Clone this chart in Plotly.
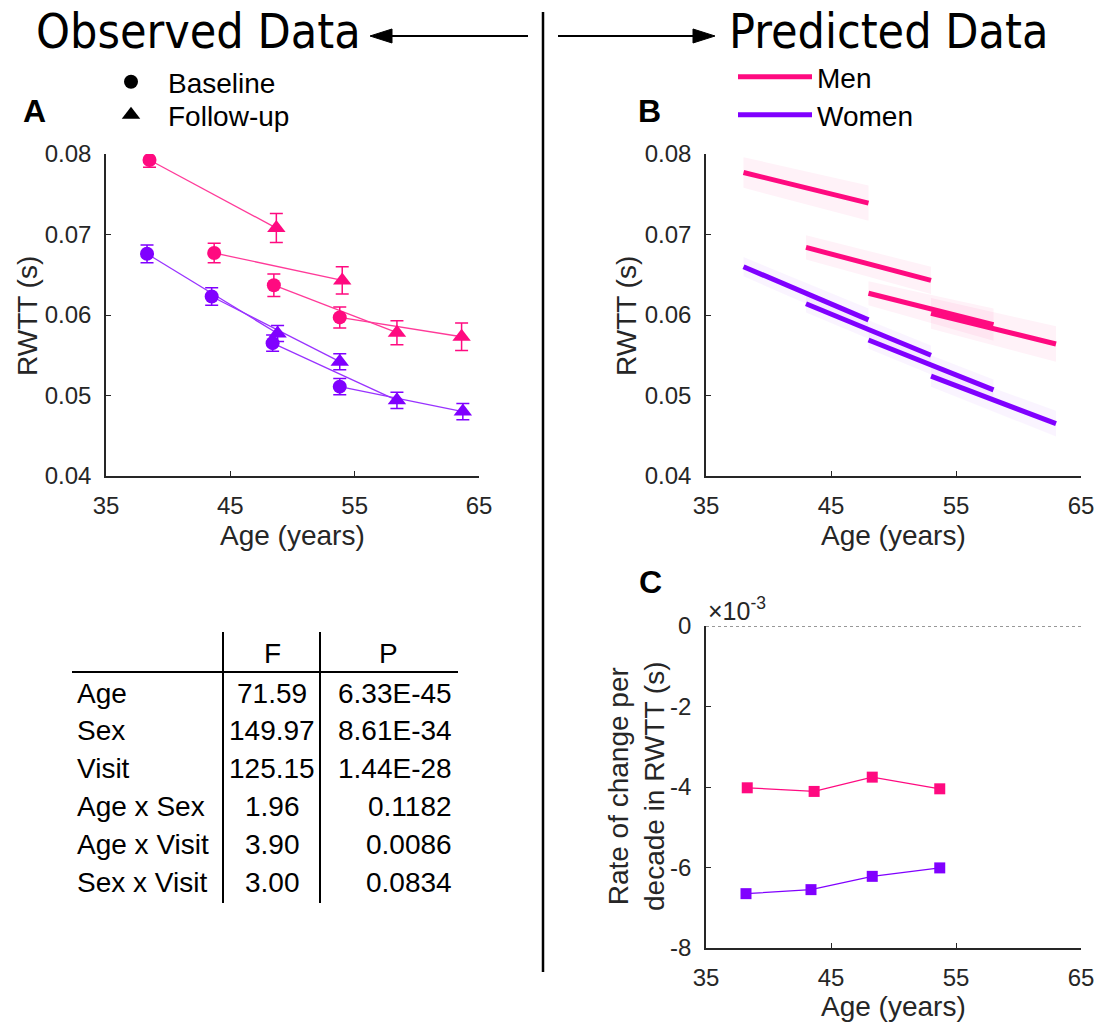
import plotly.graph_objects as go

W, H = 1100, 1026
FONT = "Liberation Sans, Arial, Helvetica, sans-serif"
HEAD_FONT = "DejaVu Sans Condensed, DejaVu Sans, sans-serif"
PINK = "#FF0A80"
PURPLE = "#8000FF"
AX = "#262626"

# ---------------- Panel A: observed data ----------------
men_base_age = [38.5, 43.7, 48.5, 53.8]
men_base_rwtt = [0.07925, 0.0677, 0.0637, 0.0597]
men_base_err = [0.0009, 0.0012, 0.0014, 0.0013]
men_fu_age = [48.7, 54.0, 58.4, 63.6]
men_fu_rwtt = [0.0708, 0.0643, 0.0578, 0.0573]
men_fu_err = [0.0018, 0.0017, 0.0015, 0.0017]

women_base_age = [38.3, 43.5, 48.4, 53.8]
women_base_rwtt = [0.0676, 0.0623, 0.0565, 0.0511]
women_base_err = [0.0011, 0.0011, 0.0010, 0.0010]
women_fu_age = [48.8, 53.8, 58.4, 63.7]
women_fu_rwtt = [0.0577, 0.0542, 0.0494, 0.0480]
women_fu_err = [0.0010, 0.0010, 0.0010, 0.0010]

# ---------------- Panel B: predicted data ----------------
pred_start_age = [38, 43, 48, 53]
pred_end_age = [48, 53, 58, 63]
men_pred_start = [0.0777, 0.0684, 0.0627, 0.0602]
men_pred_end = [0.0739, 0.0643, 0.0588, 0.0564]
men_ci_start = [0.0019, 0.0015, 0.0015, 0.0019]
men_ci_end = [0.0022, 0.0017, 0.0020, 0.0022]
women_pred_start = [0.0660, 0.0614, 0.0569, 0.0524]
women_pred_end = [0.0594, 0.0550, 0.0507, 0.0465]
women_ci_start = [0.0012, 0.0011, 0.0011, 0.0013]
women_ci_end = [0.0014, 0.0012, 0.0013, 0.0016]

# ---------------- Panel C: rate of change ----------------
rate_age_men = [38.3, 43.65, 48.3, 53.7]
rate_men = [-4.02e-3, -4.11e-3, -3.755e-3, -4.045e-3]
rate_age_women = [38.2, 43.4, 48.3, 53.7]
rate_women = [-6.65e-3, -6.55e-3, -6.22e-3, -6.01e-3]

# ---------------- Table ----------------
table_terms = ["Age", "Sex", "Visit", "Age x Sex", "Age x Visit", "Sex x Visit"]
table_F = ["71.59", "149.97", "125.15", "1.96", "3.90", "3.00"]
table_P = ["6.33E-45", "8.61E-34", "1.44E-28", "0.1182", "0.0086", "0.0834"]
table_header = ["F", "P"]

age_ticks = [35, 45, 55, 65]
rwtt_ticks = [0.04, 0.05, 0.06, 0.07, 0.08]
rate_ticks = [-0.008, -0.006, -0.004, -0.002, 0.0]
rate_ticklabels = ["-8", "-6", "-4", "-2", "0"]


def px(x):
    return x / W


def py(y):
    return 1 - y / H


def pairs(xa, ya, xb, yb):
    xs, ys = [], []
    for a, b, c, d in zip(xa, ya, xb, yb):
        xs += [a, b, None]
        ys += [c, d, None]
    return xs, ys


fig = go.Figure()

# ---- Panel A traces ----
for col, bx, by, be, fx, fy, fe in [
    (PINK, men_base_age, men_base_rwtt, men_base_err, men_fu_age, men_fu_rwtt, men_fu_err),
    (PURPLE, women_base_age, women_base_rwtt, women_base_err, women_fu_age, women_fu_rwtt, women_fu_err),
]:
    lx, ly = pairs(bx, fx, by, fy)
    fig.add_trace(go.Scatter(x=lx, y=ly, mode="lines", line=dict(color=col, width=1.3),
                             opacity=0.8, showlegend=False, xaxis="x", yaxis="y", hoverinfo="skip"))
    fig.add_trace(go.Scatter(x=bx, y=by, mode="markers",
                             marker=dict(symbol="circle", size=14, color=col, line=dict(width=0)),
                             error_y=dict(type="data", array=be, color=col, thickness=1.5, width=6.5),
                             showlegend=False, xaxis="x", yaxis="y"))
    fig.add_trace(go.Scatter(x=fx, y=fy, mode="markers",
                             marker=dict(symbol="triangle-up", size=16, color=col, line=dict(width=0)),
                             error_y=dict(type="data", array=fe, color=col, thickness=1.5, width=6.5),
                             showlegend=False, xaxis="x", yaxis="y"))

# legend entries for A
fig.add_trace(go.Scatter(x=[None], y=[None], mode="markers", name="Baseline",
                         marker=dict(symbol="circle", size=14, color="black"),
                         legend="legend", xaxis="x", yaxis="y"))
fig.add_trace(go.Scatter(x=[None], y=[None], mode="markers", name="Follow-up",
                         marker=dict(symbol="triangle-up", size=16, color="black"),
                         legend="legend2", xaxis="x", yaxis="y"))

# ---- Panel B traces ----
for col, fillc, st, en, cs, ce, name, lg in [
    (PINK, "rgba(255,10,128,0.055)", men_pred_start, men_pred_end, men_ci_start, men_ci_end, "Men", "legend3"),
    (PURPLE, "rgba(128,0,255,0.045)", women_pred_start, women_pred_end, women_ci_start, women_ci_end, "Women", "legend4"),
]:
    for s, e, ys, ye, c0, c1 in zip(pred_start_age, pred_end_age, st, en, cs, ce):
        fig.add_trace(go.Scatter(x=[s, e, e, s, s], y=[ys + c0, ye + c1, ye - c1, ys - c0, ys + c0],
                                 mode="lines", fill="toself", fillcolor=fillc, line=dict(width=0),
                                 showlegend=False, xaxis="x2", yaxis="y2", hoverinfo="skip"))
    lx, ly = pairs(pred_start_age, pred_end_age, st, en)
    fig.add_trace(go.Scatter(x=lx, y=ly, mode="lines", line=dict(color=col, width=5),
                             name=name, legend=lg, showlegend=True, xaxis="x2", yaxis="y2"))

# ---- Panel C traces ----
fig.add_trace(go.Scatter(x=rate_age_men, y=rate_men, mode="lines+markers",
                         line=dict(color=PINK, width=1.3), marker=dict(symbol="square", size=11, color=PINK),
                         showlegend=False, xaxis="x3", yaxis="y3"))
fig.add_trace(go.Scatter(x=rate_age_women, y=rate_women, mode="lines+markers",
                         line=dict(color=PURPLE, width=1.3), marker=dict(symbol="square", size=11, color=PURPLE),
                         showlegend=False, xaxis="x3", yaxis="y3"))

# ---- Axes ----
common = dict(showline=True, linecolor=AX, linewidth=1.5, ticks="inside", ticklen=5, tickwidth=1.3,
              tickcolor=AX, showgrid=False, zeroline=False, mirror=False, automargin=False,
              tickfont=dict(size=24, color=AX, family=FONT))
xdomA = [px(106), px(479)]
xdomB = [px(706), px(1081)]
ydomAB = [py(476), py(154)]
ydomC = [py(948), py(626)]

fig.update_layout(
    xaxis=dict(domain=xdomA, range=[35, 65], tickvals=age_ticks, anchor="y", ticklabelstandoff=7, **common),
    yaxis=dict(domain=ydomAB, range=[0.04, 0.08], tickvals=rwtt_ticks, tickformat=".2f", anchor="x",
               ticklabelstandoff=8, **common),
    xaxis2=dict(domain=xdomB, range=[35, 65], tickvals=age_ticks, anchor="y2", ticklabelstandoff=7, **common),
    yaxis2=dict(domain=ydomAB, range=[0.04, 0.08], tickvals=rwtt_ticks, tickformat=".2f", anchor="x2",
                ticklabelstandoff=8, **common),
    xaxis3=dict(domain=xdomB, range=[35, 65], tickvals=age_ticks, anchor="y3", ticklabelstandoff=7, **common),
    yaxis3=dict(domain=ydomC, range=[-0.008, 0.0], tickvals=rate_ticks, ticktext=rate_ticklabels, anchor="x3",
                ticklabelstandoff=8, **common),
)

leg_common = dict(bgcolor="rgba(0,0,0,0)", borderwidth=0, font=dict(size=28, family=FONT, color="black"),
                  xanchor="left", yanchor="middle", orientation="v")
fig.update_layout(
    legend=dict(x=px(94), y=py(82), itemwidth=64, **leg_common),
    legend2=dict(x=px(94), y=py(115), itemwidth=64, **leg_common),
    legend3=dict(x=px(733), y=py(77), itemwidth=74, **leg_common),
    legend4=dict(x=px(733), y=py(115), itemwidth=74, **leg_common),
)

shapes = []
annotations = []

# zero line in panel C
shapes.append(dict(type="line", xref="x3 domain", yref="y3", x0=0, x1=1, y0=0, y1=0,
                   line=dict(color="#333333", width=1, dash="dot")))

# divider
shapes.append(dict(type="line", xref="paper", yref="paper", x0=px(543), x1=px(543), y0=py(12), y1=py(972),
                   line=dict(color="black", width=2.5)))

# headers
annotations.append(dict(text="Observed Data", x=px(34), y=py(31), xref="paper", yref="paper",
                        xanchor="left", yanchor="middle", showarrow=False,
                        font=dict(size=48, family=HEAD_FONT, color="black")))
annotations.append(dict(text="Predicted Data", x=px(727), y=py(31), xref="paper", yref="paper",
                        xanchor="left", yanchor="middle", showarrow=False,
                        font=dict(size=48, family=HEAD_FONT, color="black")))

# header arrows (line + filled head)
ay = 36
shapes.append(dict(type="line", xref="paper", yref="paper", x0=px(385), x1=px(528), y0=py(ay), y1=py(ay),
                   line=dict(color="black", width=2)))
shapes.append(dict(type="path", xref="paper", yref="paper",
                   path="M %f,%f L %f,%f L %f,%f Z" % (px(370), py(ay), px(392), py(ay - 7), px(392), py(ay + 7)),
                   fillcolor="black", line=dict(color="black", width=1)))
shapes.append(dict(type="line", xref="paper", yref="paper", x0=px(558), x1=px(700), y0=py(ay), y1=py(ay),
                   line=dict(color="black", width=2)))
shapes.append(dict(type="path", xref="paper", yref="paper",
                   path="M %f,%f L %f,%f L %f,%f Z" % (px(715), py(ay), px(693), py(ay - 7), px(693), py(ay + 7)),
                   fillcolor="black", line=dict(color="black", width=1)))

# panel letters
for letter, x, y in [("A", 35, 111), ("B", 649, 111), ("C", 650, 582)]:
    annotations.append(dict(text="<b>%s</b>" % letter, x=px(x), y=py(y), xref="paper", yref="paper",
                            xanchor="center", yanchor="middle", showarrow=False,
                            font=dict(size=32, family=FONT, color="black")))

# axis titles
tf = dict(size=28, family=FONT, color=AX)
for txt, x, y, ang in [
    ("Age (years)", 292.5, 535, 0), ("Age (years)", 893.5, 535, 0), ("Age (years)", 893.5, 1006, 0),
    ("RWTT (s)", 27, 316, -90), ("RWTT (s)", 626, 316, -90),
    ("Rate of change per<br>decade in RWTT (s)", 636, 787, -90),
]:
    annotations.append(dict(text=txt, x=px(x), y=py(y), xref="paper", yref="paper", xanchor="center",
                            yanchor="middle", showarrow=False, textangle=ang, font=tf))

annotations.append(dict(text="×10<sup>-3</sup>", x=px(706), y=py(609), xref="paper", yref="paper",
                        xanchor="left", yanchor="middle", showarrow=False,
                        font=dict(size=25, family=FONT, color=AX)))

# table
shapes.append(dict(type="line", xref="paper", yref="paper", x0=px(72), x1=px(458), y0=py(672), y1=py(672),
                   line=dict(color="black", width=2)))
for xv in (223, 320):
    shapes.append(dict(type="line", xref="paper", yref="paper", x0=px(xv), x1=px(xv), y0=py(632), y1=py(903),
                       line=dict(color="black", width=2)))
tab_font = dict(size=28, family=FONT, color="black")
annotations.append(dict(text=table_header[0], x=px(272), y=py(653), xref="paper", yref="paper",
                        xanchor="center", yanchor="middle", showarrow=False, font=tab_font))
annotations.append(dict(text=table_header[1], x=px(388), y=py(653), xref="paper", yref="paper",
                        xanchor="center", yanchor="middle", showarrow=False, font=tab_font))
row_y0, row_dy = 693, 37.8
for i, (term, f, p) in enumerate(zip(table_terms, table_F, table_P)):
    yy = py(row_y0 + i * row_dy)
    annotations.append(dict(text=term, x=px(75), y=yy, xref="paper", yref="paper", xanchor="left",
                            yanchor="middle", showarrow=False, font=tab_font))
    annotations.append(dict(text=f, x=px(272), y=yy, xref="paper", yref="paper", xanchor="center",
                            yanchor="middle", showarrow=False, font=tab_font))
    annotations.append(dict(text=p, x=px(454), y=yy, xref="paper", yref="paper", xanchor="right",
                            yanchor="middle", showarrow=False, font=tab_font))

fig.update_layout(
    width=W, height=H, margin=dict(l=0, r=0, t=0, b=0),
    paper_bgcolor="white", plot_bgcolor="white",
    shapes=shapes, annotations=annotations,
    font=dict(family=FONT, color=AX),
)

fig.write_html("out.html")
